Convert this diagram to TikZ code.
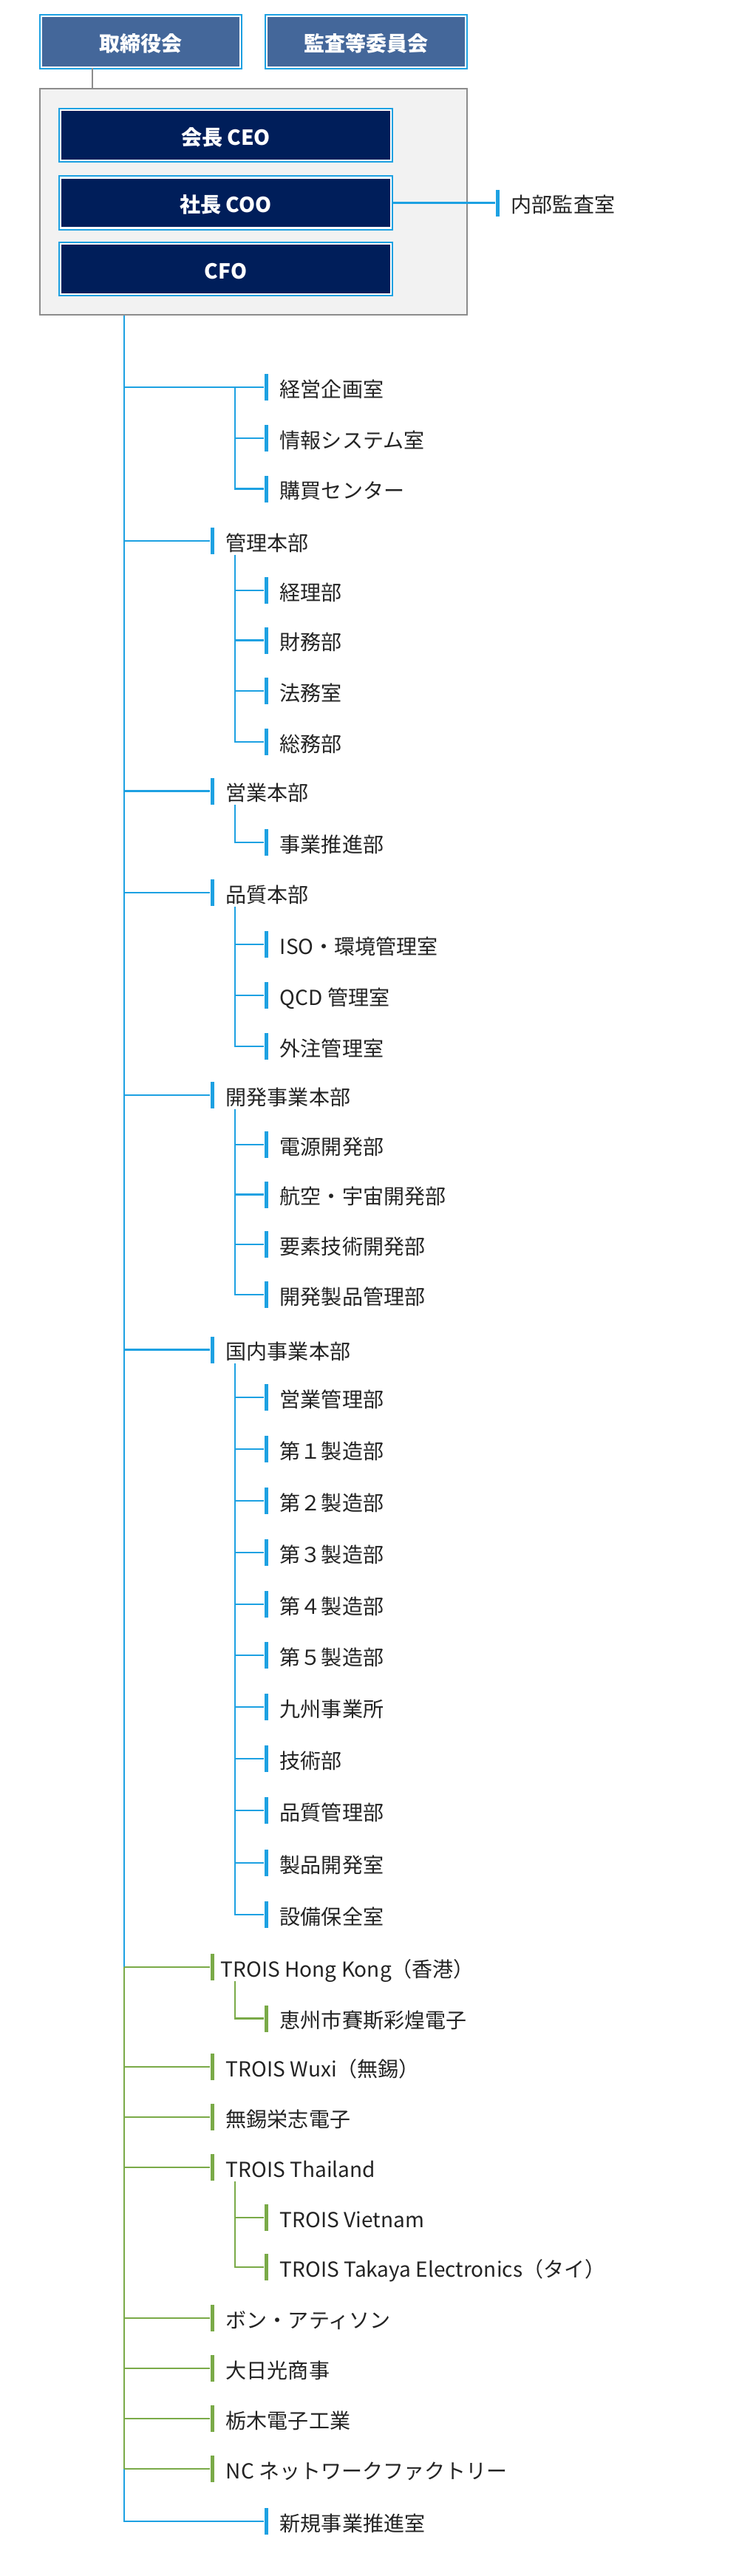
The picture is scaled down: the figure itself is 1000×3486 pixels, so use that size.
\documentclass[tikz,border=0pt]{standalone}
\usepackage{fontspec}
\setmainfont{Noto Sans CJK JP}
\usetikzlibrary{positioning}

\definecolor{lineblue}{RGB}{29,161,226}
\definecolor{linegreen}{RGB}{122,170,72}
\definecolor{boardblue}{RGB}{68,103,154}
\definecolor{execnavy}{RGB}{0,30,90}
\definecolor{framegray}{RGB}{140,140,140}
\definecolor{panelgray}{RGB}{242,242,242}
\definecolor{inkgray}{RGB}{35,35,35}

\tikzset{
  bluetick/.style={fill=lineblue, inner sep=0pt, minimum width=0.05cm, minimum height=0.36cm},
  greentick/.style={bluetick, fill=linegreen},
  item/.style={inner sep=0pt, text height=0.88em, text depth=0.12em, text=inkgray,
    font=\fontsize{7.97}{9.5}\selectfont},
  bluelink/.style={draw=lineblue, line width=0.027cm},
  greenlink/.style={draw=linegreen, line width=0.027cm},
  graylink/.style={draw=framegray, line width=0.02cm},
  board/.style={fill=boardblue, draw=white, line width=0.024cm,
    preaction={draw=lineblue, line width=0.06cm},
    minimum width=2.69cm, minimum height=0.69cm, inner sep=0pt,
    text=white, text height=0.88em, text depth=0.12em,
    font=\bfseries\fontsize{7.97}{9.5}\selectfont},
  exec/.style={board, fill=execnavy, minimum width=4.47cm, minimum height=0.68cm}
}

\begin{document}
\begin{tikzpicture}[x=0.01cm, y=-0.01cm]
\useasboundingbox (0,0) rectangle (1000,3486);

% Top boxes
\node[board] (board) at (190.5,56.5) {取締役会};
\node[board] (audit) at (495.5,56.5) {監査等委員会};
\node[draw=framegray, fill=panelgray, line width=0.02cm, minimum width=5.78cm,
  minimum height=3.06cm] (grp) at (343,273) {};
\node[exec] (ceo) at (305.5,183) {会長 CEO};
\node[exec] (coo) at (305.5,274.5) {社長 COO};
\node[exec] (cfo) at (305.5,364) {CFO};
\draw[graylink] ([xshift=0.70cm]board.south west) -- ([xshift=0.70cm]board.south west |- grp.north);

% Internal audit
\node[bluetick] (naibu-t) at (673,274.5) {};
\node[item, right=0.15cm of naibu-t] (naibu) {内部監査室};
\draw[bluelink] (coo.east) -- (naibu-t.west);

% Trunk and column of the second level
\coordinate (trunk) at ([xshift=1.15cm]grp.south west);
\coordinate (sub) at (318,0);

% Ticks (x = 287 for heads, x = 360 for units)
\node[bluetick] (keiei-t) at (360,524) {};
\node[bluetick] (joho-t) at (360,593) {};
\node[bluetick] (kobai-t) at (360,661.5) {};
\node[bluetick] (kanri-t) at (287,732) {};
\node[bluetick] (keiri-t) at (360,799) {};
\node[bluetick] (zaimu-t) at (360,866.5) {};
\node[bluetick] (homu-t) at (360,935) {};
\node[bluetick] (somu-t) at (360,1004) {};
\node[bluetick] (eigyo-t) at (287,1070.5) {};
\node[bluetick] (suishin-t) at (360,1140) {};
\node[bluetick] (hinshitsu-t) at (287,1208) {};
\node[bluetick] (iso-t) at (360,1278) {};
\node[bluetick] (qcd-t) at (360,1347) {};
\node[bluetick] (gaichu-t) at (360,1416) {};
\node[bluetick] (kaihatsu-t) at (287,1482) {};
\node[bluetick] (dengen-t) at (360,1549) {};
\node[bluetick] (koku-t) at (360,1616.5) {};
\node[bluetick] (yoso-t) at (360,1684) {};
\node[bluetick] (seihin-t) at (360,1752) {};
\node[bluetick] (kokunai-t) at (287,1826.5) {};
\node[bluetick] (eikan-t) at (360,1891) {};
\node[bluetick] (s1-t) at (360,1961) {};
\node[bluetick] (s2-t) at (360,2031) {};
\node[bluetick] (s3-t) at (360,2101) {};
\node[bluetick] (s4-t) at (360,2171) {};
\node[bluetick] (s5-t) at (360,2240) {};
\node[bluetick] (kyushu-t) at (360,2310) {};
\node[bluetick] (gijutsu-t) at (360,2380) {};
\node[bluetick] (hinkan-t) at (360,2450) {};
\node[bluetick] (seikai-t) at (360,2521) {};
\node[bluetick] (setsubi-t) at (360,2591) {};
\node[greentick] (hk-t) at (287,2662) {};
\node[greentick] (keishu-t) at (360,2731.5) {};
\node[greentick] (wuxi-t) at (287,2797) {};
\node[greentick] (eishi-t) at (287,2865) {};
\node[greentick] (thai-t) at (287,2933) {};
\node[greentick] (vn-t) at (360,3001) {};
\node[greentick] (takaya-t) at (360,3068) {};
\node[greentick] (bon-t) at (287,3137) {};
\node[greentick] (dainikko-t) at (287,3205) {};
\node[greentick] (tochigi-t) at (287,3273) {};
\node[greentick] (nc-t) at (287,3341) {};
\node[bluetick] (shinki-t) at (360,3412) {};

% Labels
\node[item, right=0.15cm of keiei-t] (keiei) {経営企画室};
\node[item, right=0.15cm of joho-t] (joho) {情報システム室};
\node[item, right=0.15cm of kobai-t] (kobai) {購買センター};
\node[item, right=0.15cm of kanri-t] (kanri) {管理本部};
\node[item, right=0.15cm of keiri-t] (keiri) {経理部};
\node[item, right=0.15cm of zaimu-t] (zaimu) {財務部};
\node[item, right=0.15cm of homu-t] (homu) {法務室};
\node[item, right=0.15cm of somu-t] (somu) {総務部};
\node[item, right=0.15cm of eigyo-t] (eigyo) {営業本部};
\node[item, right=0.15cm of suishin-t] (suishin) {事業推進部};
\node[item, right=0.15cm of hinshitsu-t] (hinshitsu) {品質本部};
\node[item, right=0.15cm of iso-t] (iso) {ISO・環境管理室};
\node[item, right=0.15cm of qcd-t] (qcd) {QCD 管理室};
\node[item, right=0.15cm of gaichu-t] (gaichu) {外注管理室};
\node[item, right=0.15cm of kaihatsu-t] (kaihatsu) {開発事業本部};
\node[item, right=0.15cm of dengen-t] (dengen) {電源開発部};
\node[item, right=0.15cm of koku-t] (koku) {航空・宇宙開発部};
\node[item, right=0.15cm of yoso-t] (yoso) {要素技術開発部};
\node[item, right=0.15cm of seihin-t] (seihin) {開発製品管理部};
\node[item, right=0.15cm of kokunai-t] (kokunai) {国内事業本部};
\node[item, right=0.15cm of eikan-t] (eikan) {営業管理部};
\node[item, right=0.15cm of s1-t] (s1) {第１製造部};
\node[item, right=0.15cm of s2-t] (s2) {第２製造部};
\node[item, right=0.15cm of s3-t] (s3) {第３製造部};
\node[item, right=0.15cm of s4-t] (s4) {第４製造部};
\node[item, right=0.15cm of s5-t] (s5) {第５製造部};
\node[item, right=0.15cm of kyushu-t] (kyushu) {九州事業所};
\node[item, right=0.15cm of gijutsu-t] (gijutsu) {技術部};
\node[item, right=0.15cm of hinkan-t] (hinkan) {品質管理部};
\node[item, right=0.15cm of seikai-t] (seikai) {製品開発室};
\node[item, right=0.15cm of setsubi-t] (setsubi) {設備保全室};
\node[item, right=0.08cm of hk-t] (hk) {TROIS Hong Kong（香港）};
\node[item, right=0.15cm of keishu-t] (keishu) {恵州市賽斯彩煌電子};
\node[item, right=0.15cm of wuxi-t] (wuxi) {TROIS Wuxi（無錫）};
\node[item, right=0.15cm of eishi-t] (eishi) {無錫栄志電子};
\node[item, right=0.15cm of thai-t] (thai) {TROIS Thailand};
\node[item, right=0.15cm of vn-t] (vn) {TROIS Vietnam};
\node[item, right=0.15cm of takaya-t] (takaya) {TROIS Takaya Electronics（タイ）};
\node[item, right=0.15cm of bon-t] (bon) {ボン・アティソン};
\node[item, right=0.15cm of dainikko-t] (dainikko) {大日光商事};
\node[item, right=0.15cm of tochigi-t] (tochigi) {栃木電子工業};
\node[item, right=0.15cm of nc-t] (nc) {NC ネットワークファクトリー};
\node[item, right=0.15cm of shinki-t] (shinki) {新規事業推進室};

% Trunk
\draw[bluelink] (trunk) -- (trunk |- hk-t);
\draw[greenlink] (trunk |- hk-t) -- (trunk |- nc-t);
\draw[bluelink] (trunk |- nc-t) -- (trunk |- shinki-t) -- (shinki-t.west);

% Branches off the trunk
\draw[bluelink] (trunk |- keiei-t) -- (keiei-t.west);
\draw[bluelink] (trunk |- kanri-t) -- (kanri-t.west);
\draw[bluelink] (trunk |- eigyo-t) -- (eigyo-t.west);
\draw[bluelink] (trunk |- hinshitsu-t) -- (hinshitsu-t.west);
\draw[bluelink] (trunk |- kaihatsu-t) -- (kaihatsu-t.west);
\draw[bluelink] (trunk |- kokunai-t) -- (kokunai-t.west);
\draw[greenlink] (trunk |- hk-t) -- (hk-t.west);
\draw[greenlink] (trunk |- wuxi-t) -- (wuxi-t.west);
\draw[greenlink] (trunk |- eishi-t) -- (eishi-t.west);
\draw[greenlink] (trunk |- thai-t) -- (thai-t.west);
\draw[greenlink] (trunk |- bon-t) -- (bon-t.west);
\draw[greenlink] (trunk |- dainikko-t) -- (dainikko-t.west);
\draw[greenlink] (trunk |- tochigi-t) -- (tochigi-t.west);
\draw[greenlink] (trunk |- nc-t) -- (nc-t.west);

% Second level
\draw[bluelink] (sub |- keiei-t) -- (sub |- kobai-t) -- (kobai-t.west);
\draw[bluelink] (sub |- joho-t) -- (joho-t.west);

\draw[bluelink] (sub |- kanri-t.south) -- (sub |- somu-t) -- (somu-t.west);
\draw[bluelink] (sub |- keiri-t) -- (keiri-t.west);
\draw[bluelink] (sub |- zaimu-t) -- (zaimu-t.west);
\draw[bluelink] (sub |- homu-t) -- (homu-t.west);

\draw[bluelink] (sub |- eigyo-t.south) -- (sub |- suishin-t) -- (suishin-t.west);

\draw[bluelink] (sub |- hinshitsu-t.south) -- (sub |- gaichu-t) -- (gaichu-t.west);
\draw[bluelink] (sub |- iso-t) -- (iso-t.west);
\draw[bluelink] (sub |- qcd-t) -- (qcd-t.west);

\draw[bluelink] (sub |- kaihatsu-t.south) -- (sub |- seihin-t) -- (seihin-t.west);
\draw[bluelink] (sub |- dengen-t) -- (dengen-t.west);
\draw[bluelink] (sub |- koku-t) -- (koku-t.west);
\draw[bluelink] (sub |- yoso-t) -- (yoso-t.west);

\draw[bluelink] (sub |- kokunai-t.south) -- (sub |- setsubi-t) -- (setsubi-t.west);
\draw[bluelink] (sub |- eikan-t) -- (eikan-t.west);
\draw[bluelink] (sub |- s1-t) -- (s1-t.west);
\draw[bluelink] (sub |- s2-t) -- (s2-t.west);
\draw[bluelink] (sub |- s3-t) -- (s3-t.west);
\draw[bluelink] (sub |- s4-t) -- (s4-t.west);
\draw[bluelink] (sub |- s5-t) -- (s5-t.west);
\draw[bluelink] (sub |- kyushu-t) -- (kyushu-t.west);
\draw[bluelink] (sub |- gijutsu-t) -- (gijutsu-t.west);
\draw[bluelink] (sub |- hinkan-t) -- (hinkan-t.west);
\draw[bluelink] (sub |- seikai-t) -- (seikai-t.west);

\draw[greenlink] (sub |- hk-t.south) -- (sub |- keishu-t) -- (keishu-t.west);
\draw[greenlink] (sub |- thai-t.south) -- (sub |- takaya-t) -- (takaya-t.west);
\draw[greenlink] (sub |- vn-t) -- (vn-t.west);

\end{tikzpicture}
\end{document}
